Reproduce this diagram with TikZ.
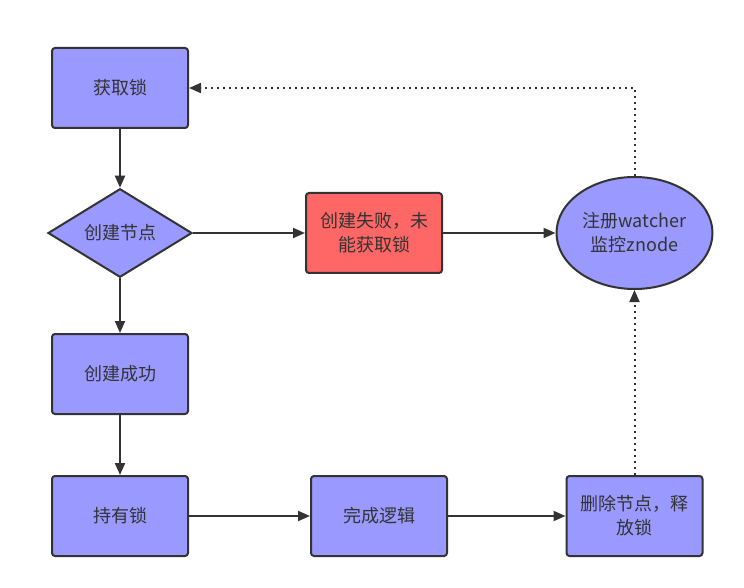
\documentclass[tikz,border=0pt]{standalone}
\usepackage{fontspec}
\setmainfont{Noto Sans CJK SC}
\usepackage{tikz}
\usetikzlibrary{shapes.geometric,arrows.meta}

\definecolor{boxblue}{HTML}{9999FF}
\definecolor{boxred}{HTML}{FF6666}
\definecolor{linegray}{HTML}{333333}

\begin{document}
\begin{tikzpicture}[x=0.5pt,y=-0.5pt,
    every node/.style={font=\fontsize{9}{12}\selectfont, text=linegray, align=center},
    stepbox/.style={draw=linegray, line width=1pt, fill=boxblue, rounded corners=1.5pt,
        minimum width=68pt, minimum height=40pt, inner sep=0pt},
    failbox/.style={stepbox, fill=boxred},
    choice/.style={diamond, draw=linegray, line width=1pt, fill=boxblue,
        minimum width=72pt, minimum height=43pt, inner sep=0pt},
    waitnode/.style={ellipse, draw=linegray, line width=1pt, fill=boxblue,
        minimum width=78pt, minimum height=56pt, inner sep=0pt},
    flow/.style={draw=linegray, line width=1pt, -{Triangle[length=6pt,width=5pt]}},
    backflow/.style={flow, dotted}]
    \useasboundingbox (0,0) rectangle (744,588);
    % nodes
    \node [stepbox] (get) at (120,88) {获取锁};
    \node [choice] (create) at (120,233) {创建节点};
    \node [failbox] (fail) at (374,233) {创建失败，未\\能获取锁};
    \node [waitnode] (watch) at (634.5,233) {注册watcher\\监控znode};
    \node [stepbox] (ok) at (120,374) {创建成功};
    \node [stepbox] (hold) at (120,516) {持有锁};
    \node [stepbox] (work) at (379,516) {完成逻辑};
    \node [stepbox] (release) at (634.5,516) {删除节点，释\\放锁};
    % connectors
    \draw [flow] (get) -- (create);
    \draw [flow] (create) -- (fail);
    \draw [flow] (fail) -- (watch);
    \draw [flow] (create) -- (ok);
    \draw [flow] (ok) -- (hold);
    \draw [flow] (hold) -- (work);
    \draw [flow] (work) -- (release);
    \draw [backflow] (release) -- (watch);
    \draw [backflow] (watch.north) |- (get.east);
\end{tikzpicture}
\end{document}
